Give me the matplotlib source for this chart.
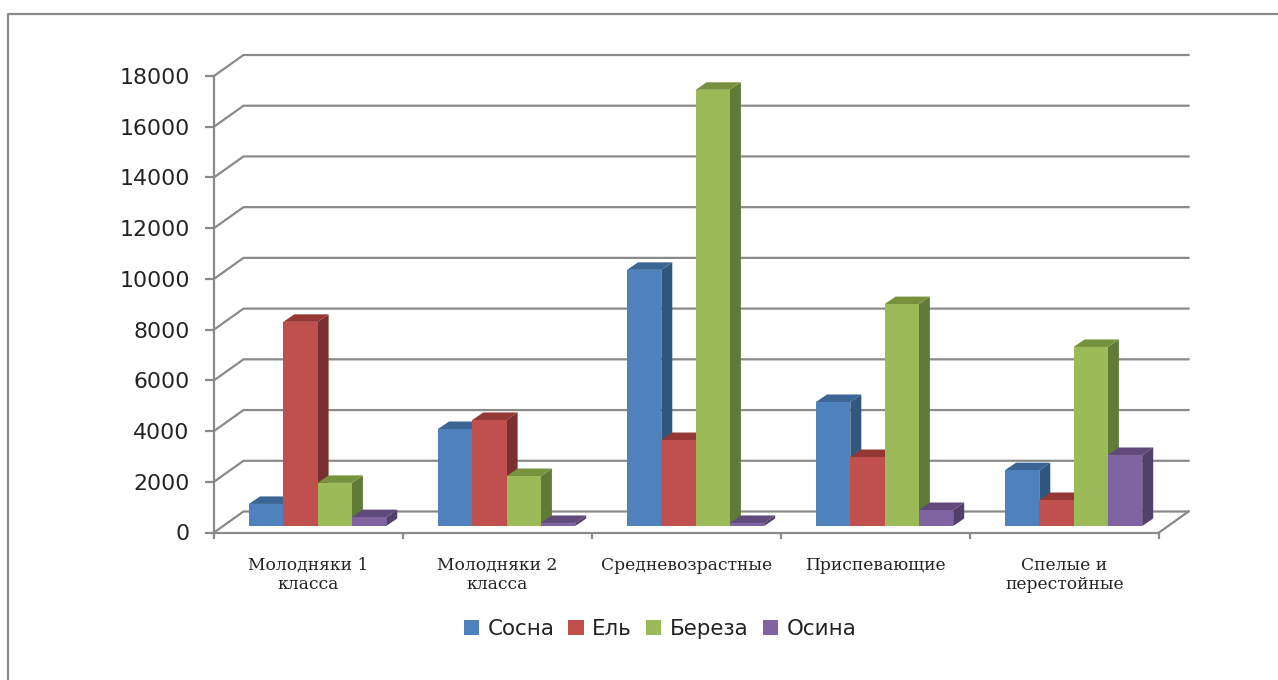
import matplotlib
matplotlib.use("Agg")
import matplotlib.pyplot as plt
from matplotlib.patches import Patch, Polygon, Rectangle

categories = ["Молодняки 1\nкласса", "Молодняки 2\nкласса", "Средневозрастные", "Приспевающие", "Спелые и\nперестойные"]
series_names = ["Сосна", "Ель", "Береза", "Осина"]
sosna = [870, 3825, 10100, 4890, 2200]
el = [8050, 4180, 3390, 2720, 1025]
bereza = [1700, 1970, 17200, 8750, 7060]
osina = [350, 120, 120, 630, 2800]
y_ticks = [0, 2000, 4000, 6000, 8000, 10000, 12000, 14000, 16000, 18000]

front_colors = ["#4F81BD", "#C0504D", "#9BBB59", "#8064A2"]
top_colors = ["#3A6595", "#953735", "#76923C", "#604A7B"]
side_colors = ["#31577F", "#7A302E", "#627A37", "#533F6B"]
GRAY = "#8A8A8A"

W, H = 1278, 680
fig = plt.figure(figsize=(W / 100, H / 100), dpi=100)
ax = fig.add_axes([214 / W, 1 - 532.5 / H, 945 / W, 456.5 / H])
ax.set_xlim(0, 5)
ax.set_ylim(0, 18000)

# one pixel in data units, for the fake 3d offsets
px = 5 / 945
py = 18000 / 456.5

# back wall gridlines
wall_dx, wall_dy = 29.5 * px, 21 * py
for t in y_ticks:
    ax.plot([0, wall_dx, 5 + wall_dx], [t, t + wall_dy, t + wall_dy],
            color=GRAY, lw=1.6, clip_on=False, zorder=1, solid_joinstyle="miter")
ax.plot([5, 5 + wall_dx], [0, wall_dy], color=GRAY, lw=1.6, clip_on=False, zorder=1)

# bars, left to right so later fronts cover earlier sides
bar_w = 34.3 * px
start = 35 * px
base = 6.5 * py
depth_x, depth_y = 11 * px, 7.5 * py
for c in range(len(categories)):
    for s, vals in enumerate([sosna, el, bereza, osina]):
        x0 = c + start + s * bar_w
        x1 = x0 + bar_w
        top = base + vals[c]
        ax.add_patch(Polygon([(x1, base), (x1 + depth_x, base + depth_y), (x1 + depth_x, top + depth_y), (x1, top)],
                             fc=side_colors[s], ec="none", clip_on=False, zorder=2))
        ax.add_patch(Polygon([(x0, top), (x1, top), (x1 + depth_x, top + depth_y), (x0 + depth_x, top + depth_y)],
                             fc=top_colors[s], ec="none", clip_on=False, zorder=2))
        ax.add_patch(Rectangle((x0, base), bar_w, vals[c], fc=front_colors[s], ec="none", clip_on=False, zorder=2))

for side in ["top", "right"]:
    ax.spines[side].set_visible(False)
for side in ["left", "bottom"]:
    ax.spines[side].set_color(GRAY)
    ax.spines[side].set_linewidth(1.6)

ax.set_yticks(y_ticks)
ax.tick_params(axis="y", length=6.5, width=1.6, color=GRAY, labelsize=15.8, labelcolor="#222222", pad=11)
ax.set_xticks(range(6))
ax.set_xticklabels([])
ax.tick_params(axis="x", which="major", length=4.5, width=1.6, color=GRAY)
ax.set_xticks([i + 0.5 for i in range(5)], minor=True)
ax.set_xticklabels(categories, minor=True, family="DejaVu Serif", fontsize=12.3, color="#222222", linespacing=1.15)
ax.tick_params(axis="x", which="minor", length=0, pad=17.5)

handles = [Patch(fc=c, ec="none") for c in front_colors]
fig.legend(handles, series_names, ncol=4, loc="center", bbox_to_anchor=(660 / W, 1 - 629 / H),
           frameon=False, fontsize=15.4, handlelength=0.72, handleheight=0.72, handletextpad=0.4,
           columnspacing=0.65, labelcolor="#222222")

# outer chart frame, runs off the right and bottom edges
fig.add_artist(plt.Line2D([8 / W, 8 / W, 1], [0, 1 - 14 / H, 1 - 14 / H], color=GRAY, lw=1.6))

fig.savefig("out.png", dpi=100)
